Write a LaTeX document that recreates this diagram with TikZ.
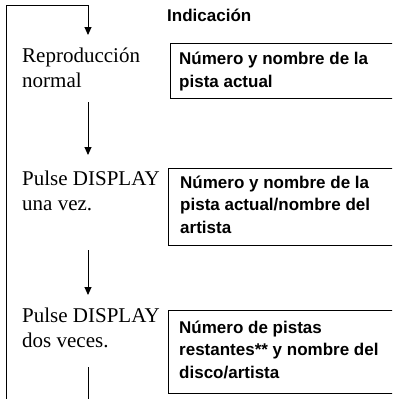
\documentclass[tikz,border=0pt]{standalone}
\usepackage{fontspec}
\setmainfont{Liberation Serif}
\newfontfamily\boxfont{Liberation Sans}
\usetikzlibrary{arrows.meta}
\begin{document}
\begin{tikzpicture}[x=1pt,y=-1pt,
  steptext/.style={anchor=base west, align=left, inner sep=0pt, font=\fontsize{21}{25}\selectfont},
  infotext/.style={anchor=base west, align=left, inner sep=0pt, font=\boxfont\bfseries\fontsize{17}{22.5}\selectfont},
  flow/.style={line width=0.9pt},
  arr/.style={flow,-{Triangle[length=8pt,width=7pt]}},
  infobox/.style={draw, line width=1.1pt, anchor=north west, inner sep=0pt, minimum width=250pt}]
\useasboundingbox (0,0) rectangle (392,399);
\clip (0,0) rectangle (392,399);

% header
\node (hdr) [infotext] at (167,21) {Indicación};

% steps (anchored at the baseline of the last line)
\node (s1) [steptext] at (22,87) {Reproducción\\normal};
\node (s2) [steptext] at (22,210) {Pulse DISPLAY\\una vez.};
\node (s3) [steptext] at (22,347) {Pulse DISPLAY\\dos veces.};

% boxes
\node (b1) [infobox, minimum height=55pt] at (170,43) {};
\node (b2) [infobox, minimum height=77pt] at (168,168) {};
\node (b3) [infobox, minimum height=83pt] at (168,310) {};
\node (i1) [infotext] at (179,87) {Número y nombre de la\\pista actual};
\node (i2) [infotext] at (180,233) {Número y nombre de la\\pista actual/nombre del\\artista};
\node (i3) [infotext] at (179,378) {Número de pistas\\restantes** y nombre del\\disco/artista};

% connectors
\coordinate (c0) at (6,399);
\coordinate (c1) at (6,5);
\coordinate (c2) at (88,5);
\coordinate (a1) at (88,35);
\coordinate (t1) at (88,102);
\coordinate (a2) at (88,155);
\coordinate (t2) at (88,250);
\coordinate (a3) at (88,295);
\coordinate (t3) at (88,367);
\coordinate (c4) at (88,399);

\draw[flow] (c0) -- (c1) -- (c2);
\draw[arr] (c2) -- (a1);
\draw[arr] (t1) -- (a2);
\draw[arr] (t2) -- (a3);
\draw[flow] (t3) -- (c4);
\end{tikzpicture}
\end{document}
